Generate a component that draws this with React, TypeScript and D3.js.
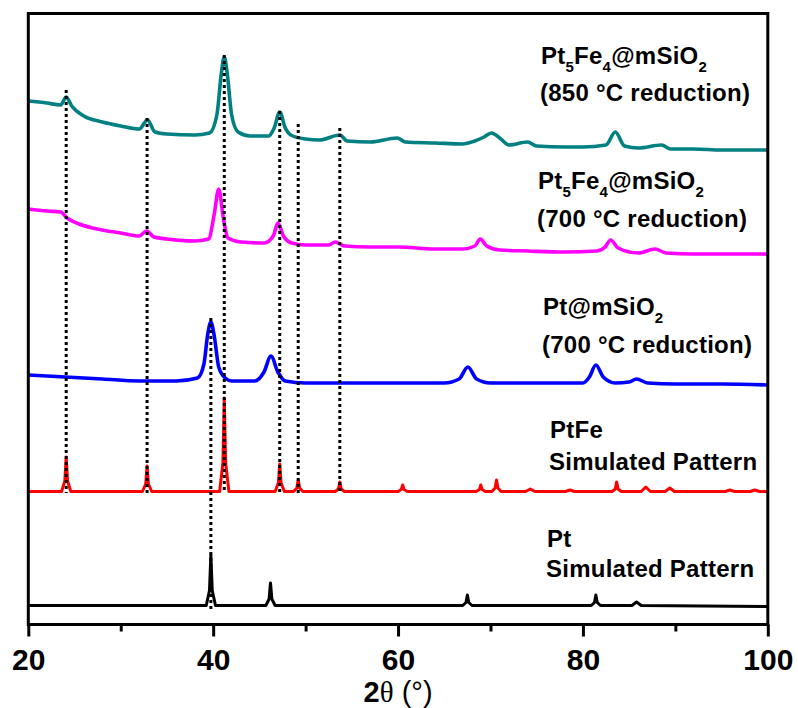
import React, { useEffect, useRef } from "react";
import * as d3 from "d3";

type Pt = [number, number];

const xTicks = [20, 40, 60, 80, 100];
const xMinorTicks = [30, 50, 70, 90];

// [2θ (deg), intensity (a.u., stacked)]
const pt5fe4At850: Pt[] = [
  [20, 526], [22, 524], [23.5, 522], [24.1, 530], [24.7, 521], [26, 511], [28, 505],
  [30, 501], [32, 498], [32.9, 507], [33.7, 495], [35, 493], [38, 492], [39.6, 494],
  [40.4, 512], [40.9, 555], [41.2, 570], [41.5, 555], [42.0, 512], [42.7, 495],
  [44, 491], [46, 491], [46.6, 499], [47.2, 515], [47.8, 499], [48.4, 492], [50, 488],
  [51.5, 487], [53.7, 492], [54.5, 486], [57, 485], [59.9, 489], [60.8, 485], [64, 484],
  [67, 483], [68.3, 486], [69.3, 490], [70.1, 494], [71, 489], [72, 482], [74, 485],
  [75, 481], [78, 480], [80, 480], [82.5, 482], [83.5, 495], [84.5, 481], [86, 479],
  [88.5, 482], [89.5, 478], [92, 478], [95, 477], [100, 477],
];

const pt5fe4At700: Pt[] = [
  [20, 418], [22, 416], [23.5, 415], [24.2, 409], [25.5, 403], [28, 397], [30, 394],
  [32, 391], [32.8, 396], [33.6, 390], [35, 388], [38, 386], [39.5, 388], [40.1, 412],
  [40.6, 438], [41.1, 409], [41.6, 389], [43, 385], [45.5, 384], [46.5, 391], [47.0, 404],
  [47.6, 391], [48.5, 384], [50, 382], [52.5, 382], [53.2, 385], [54.2, 381], [57, 380],
  [60, 380], [64, 378], [67, 378], [68.3, 381], [68.9, 388], [69.6, 381], [71, 377],
  [74, 376], [78, 375], [81.5, 376], [82.4, 380], [83.0, 387], [83.8, 379], [86, 374],
  [87.8, 378], [89, 374], [92, 373], [96, 373], [100, 373],
];

const ptAt700: Pt[] = [
  [20, 252], [24, 250], [28, 248], [32, 246], [36, 246], [38.3, 249], [39.0, 263],
  [39.4, 292], [39.75, 305], [40.1, 292], [40.6, 260], [41.3, 249], [42, 246],
  [44.5, 246], [45.5, 255], [46.25, 271], [47.0, 255], [47.8, 246], [50, 244], [55, 244],
  [60, 244], [65, 244], [66.6, 248], [67.55, 260], [68.5, 248], [70, 244], [75, 244],
  [80, 244], [80.7, 250], [81.4, 262], [82.2, 250], [83.5, 244], [85, 245], [85.8, 248],
  [87, 244], [90, 243], [95, 243], [100, 242],
];

const ptfeSim: Pt[] = [
  [20, 135.5],
  [23.6, 135.5], [23.95, 146], [24.1, 170], [24.25, 146], [24.6, 135.5],
  [32.35, 135.5], [32.7, 143], [32.85, 161], [33.0, 143], [33.35, 135.5],
  [40.7, 135.5], [41.05, 164], [41.2, 229], [41.35, 164], [41.7, 135.5],
  [46.7, 135.5], [47.05, 144], [47.2, 163], [47.35, 144], [47.7, 135.5],
  [48.7, 135.5], [49.05, 139], [49.2, 147], [49.35, 139], [49.7, 135.5],
  [53.2, 135.5], [53.55, 138], [53.7, 145], [53.85, 138], [54.2, 135.5],
  [60.0, 135.5], [60.35, 137.5], [60.5, 142], [60.65, 137.5], [61.0, 135.5],
  [68.45, 135.5], [68.8, 137.5], [68.95, 142], [69.1, 137.5], [69.45, 135.5],
  [70.15, 135.5], [70.5, 139], [70.65, 147], [70.8, 139], [71.15, 135.5],
  [73.8, 135.5], [74.3, 138], [74.8, 135.5],
  [78.1, 135.5], [78.6, 137], [79.1, 135.5],
  [83.15, 135.5], [83.5, 138], [83.65, 145], [83.8, 138], [84.15, 135.5],
  [86.3, 135.5], [86.8, 140], [87.3, 135.5],
  [88.9, 135.5], [89.4, 139], [89.9, 135.5],
  [95.4, 135.5], [95.9, 137], [96.4, 135.5],
  [98.1, 135.5], [98.6, 137], [99.1, 135.5],
  [100, 135.5],
];

const ptSim: Pt[] = [
  [20, 21.5],
  [39.25, 21.5], [39.6, 36.5], [39.75, 72], [39.9, 36.5], [40.25, 21.5],
  [45.7, 21.5], [46.05, 28], [46.2, 44], [46.35, 28], [46.7, 21.5],
  [67.0, 21.5], [67.35, 24.5], [67.5, 32], [67.65, 24.5], [68.0, 21.5],
  [80.9, 21.5], [81.25, 24.5], [81.4, 32], [81.55, 24.5], [81.9, 21.5],
  [85.3, 21.5], [85.8, 25], [86.3, 21.5],
  [100, 20.5],
];

const series = [pt5fe4At850, pt5fe4At700, ptAt700, ptfeSim, ptSim];
const seriesColors = ["#008080", "#ff00ff", "#0000ff", "#ff0000", "#000000"];
const seriesSimulated = [false, false, false, true, true];

// dotted reference lines: [2θ, top, bottom]
const refLines: [number, number, number][] = [
  [24.1, 537, 134], [32.85, 509, 134], [41.2, 572, 134], [47.2, 516, 134],
  [49.2, 503, 134], [53.7, 499, 134], [39.75, 309, 16],
];

const labels = [
  ["Pt_5Fe_4@mSiO_2", "(850 °C reduction)"],
  ["Pt_5Fe_4@mSiO_2", "(700 °C reduction)"],
  ["Pt@mSiO_2", "(700 °C reduction)"],
  ["PtFe", "Simulated Pattern"],
  ["Pt", "Simulated Pattern"],
];

export default function App() {
  const ref = useRef<SVGSVGElement>(null);

  useEffect(() => {
    const svg = d3.select(ref.current);
    svg.selectAll("*").remove();

    const W = 798, H = 708;
    const left = 28.3, right = 767.8, top = 13.5, bottom = 624.5;
    const font = "Arial, 'Liberation Sans', sans-serif";

    svg.attr("width", W).attr("height", H);

    const x = d3.scaleLinear().domain([20, 100]).range([left, right]);
    const y = d3.scaleLinear().domain([2.5, 613.5]).range([bottom, top]);

    const g = svg.append("g");

    series.forEach((data, i) => {
      const line = d3.line<Pt>()
        .x((d) => x(d[0]))
        .y((d) => y(d[1]))
        .curve(seriesSimulated[i] ? d3.curveLinear : d3.curveMonotoneX);
      g.append("path")
        .datum(data)
        .attr("d", line)
        .attr("fill", "none")
        .attr("stroke", seriesColors[i])
        .attr("stroke-width", seriesSimulated[i] ? 3 : 3.6)
        .attr("stroke-linejoin", "round");
    });

    g.selectAll(".ref")
      .data(refLines)
      .enter()
      .append("line")
      .attr("x1", (d) => x(d[0]))
      .attr("x2", (d) => x(d[0]))
      .attr("y1", (d) => y(d[1]))
      .attr("y2", (d) => y(d[2]))
      .attr("stroke", "#000")
      .attr("stroke-width", 3)
      .attr("stroke-dasharray", "3,3");

    // frame
    g.append("rect")
      .attr("x", left)
      .attr("y", top)
      .attr("width", right - left)
      .attr("height", bottom - top)
      .attr("fill", "none")
      .attr("stroke", "#000")
      .attr("stroke-width", 3);

    const ax = g.append("g")
      .attr("transform", `translate(0,${bottom})`)
      .call(d3.axisBottom(x).tickValues(xTicks).tickSize(12).tickPadding(12).tickFormat(d3.format("d")));
    ax.select(".domain").remove();
    ax.selectAll("line").attr("stroke-width", 3);
    ax.selectAll("text")
      .attr("font-family", font)
      .attr("font-weight", "bold")
      .attr("font-size", 30)
      .attr("fill", "#000");

    const axm = g.append("g")
      .attr("transform", `translate(0,${bottom})`)
      .call(d3.axisBottom(x).tickValues(xMinorTicks).tickSize(7).tickFormat(() => ""));
    axm.select(".domain").remove();
    axm.selectAll("line").attr("stroke-width", 3);

    // x title
    const xt = g.append("text")
      .attr("x", (left + right) / 2)
      .attr("y", 702)
      .attr("text-anchor", "middle")
      .attr("font-family", font)
      .attr("font-size", 29)
      .attr("fill", "#000");
    xt.append("tspan").attr("font-weight", "bold").text("2");
    xt.append("tspan").attr("font-family", "'Liberation Serif', 'Times New Roman', serif").text("θ");
    xt.append("tspan").text(" (°)");

    // series labels
    const labelPos = [[541, 64, 101], [538, 189, 227], [543, 315, 353], [550, 438, 470], [547, 547, 577]];
    labels.forEach((lab, i) => {
      const [lx, y1, y2] = labelPos[i];
      const t1 = g.append("text")
        .attr("x", lx)
        .attr("y", y1)
        .attr("font-family", font)
        .attr("font-weight", "bold")
        .attr("font-size", 24)
        .attr("letter-spacing", 0.25)
        .attr("fill", "#000");
      // "_5" means subscript 5
      let shift = 0;
      lab[0].split(/(_\d)/).filter((s) => s.length).forEach((s) => {
        if (s[0] === "_") {
          t1.append("tspan").attr("font-size", 15).attr("dy", 8 - shift).text(s.slice(1));
          shift = 8;
        } else {
          t1.append("tspan").attr("dy", -shift).text(s);
          shift = 0;
        }
      });
      g.append("text")
        .attr("x", lx - 1)
        .attr("y", y2)
        .attr("font-family", font)
        .attr("font-weight", "bold")
        .attr("font-size", 24)
        .attr("letter-spacing", 0.25)
        .attr("fill", "#000")
        .text(lab[1]);
    });
  }, []);

  return <svg ref={ref} style={{ position: "absolute", left: 0, top: 0 }}></svg>;
}
